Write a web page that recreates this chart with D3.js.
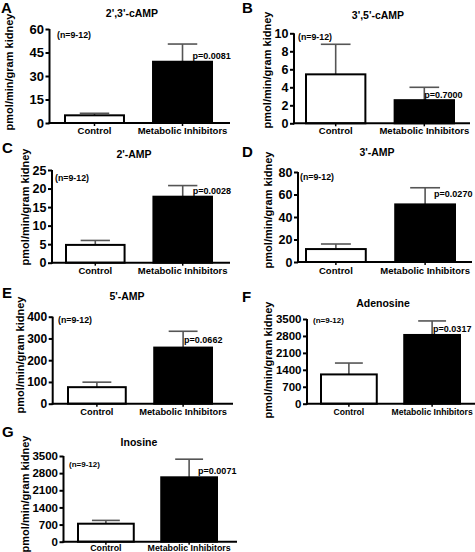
<!DOCTYPE html>
<html>
<head>
<meta charset="utf-8">
<script src="https://cdn.jsdelivr.net/npm/d3@7"></script>
<style>
  html, body { margin: 0; padding: 0; background: #fff; }
  text { font-family: "Liberation Sans", Arial, sans-serif; font-weight: bold; fill: #000; }
</style>
</head>
<body>
<svg id="chart" width="475" height="552"></svg>
<script>
// ---- data ----
const panelLetters = ["A", "B", "C", "D", "E", "F", "G"];
const titles = ["2',3'-cAMP", "3',5'-cAMP", "2'-AMP", "3'-AMP", "5'-AMP", "Adenosine", "Inosine"];
const categories = ["Control", "Metabolic Inhibitors"];
const controlMeans = [4.9, 5.44, 4.8, 11.5, 76, 1210, 735];
const controlUpper = [6.2, 8.78, 6.0, 16.0, 99, 1680, 870];
const inhibitorMeans = [39.1, 2.57, 17.8, 51.2, 258, 2840, 2630];
const inhibitorUpper = [50.4, 4.0, 20.8, 66, 333, 3420, 3370];
const pLabels = ["p=0.0081", "p=0.7000", "p=0.0028", "p=0.0270", "p=0.0662", "p=0.0317", "p=0.0071"];
const yMaxes = [60, 10, 25, 80, 400, 3500, 3500];
const yTickValues = [
  [0, 15, 30, 45, 60],
  [0, 2, 4, 6, 8, 10],
  [0, 5, 10, 15, 20, 25],
  [0, 20, 40, 60, 80],
  [0, 100, 200, 300, 400],
  [0, 700, 1400, 2100, 2800, 3500],
  [0, 700, 1400, 2100, 2800, 3500]
];
const nLabel = "(n=9-12)";
const yAxisLabel = "pmol/min/gram kidney";

// ---- layout (positions only) ----
// ax: y-axis x; xEnd: x-axis end; band: [left, right] extent of the band scale
const layout = [
  {ax: 49.5, xEnd: 230, band: [65, 212],  y0: 123,   yTop: 29,    tickFont: 13,   catFont: 9.5, letter: [1, 13],   title: [132, 17],  ylab: [9, 72],   n: [57, 38],   pdx: 10, pdy: -3, catDy: 11},
  {ax: 294,  xEnd: 470, band: [306, 454], y0: 123.3, yTop: 33.3,  tickFont: 12.5, catFont: 9.5, letter: [242, 13], title: [378, 19],  ylab: [267, 70], n: [298, 40],  pdx: 0,  pdy: -2, catDy: 11},
  {ax: 52,   xEnd: 230, band: [66, 212],  y0: 262.7, yTop: 170,   tickFont: 12.5, catFont: 9.5, letter: [2, 153],  title: [134, 158], ylab: [25, 207], n: [55, 181],  pdx: 10, pdy: -3, catDy: 11.5},
  {ax: 298,  xEnd: 472, band: [306, 455], y0: 262,   yTop: 172,   tickFont: 12.5, catFont: 9.5, letter: [242, 157],title: [377, 156], ylab: [268, 210],n: [300, 180], pdx: 9,  pdy: -7, catDy: 11.5},
  {ax: 52.7, xEnd: 233, band: [68, 212],  y0: 403.7, yTop: 316.7, tickFont: 12,   catFont: 9.3, letter: [2, 298],  title: [127, 300], ylab: [20, 355], n: [58, 323],  pdx: 1,  pdy: -5, catDy: 11},
  {ax: 307,  xEnd: 475, band: [321, 460], y0: 403.7, yTop: 319,   tickFont: 11.5, catFont: 8.6, letter: [242, 302],title: [383, 307], ylab: [268, 360],n: [313, 323], pdx: 1,  pdy: -3, catDy: 11},
  {ax: 63.5, xEnd: 237, band: [78, 217],  y0: 541.7, yTop: 456,   tickFont: 11.5, catFont: 8.8, letter: [2, 437],  title: [139, 446], ylab: [25, 494], n: [69, 467],  pdx: 9,  pdy: -3, catDy: 9}
];

const svg = d3.select("#chart");
const FONT = "'Liberation Sans', Arial, sans-serif";

panelLetters.forEach((letter, i) => {
  const L = layout[i];
  const g = svg.append("g");
  const values = [controlMeans[i], inhibitorMeans[i]];
  const uppers = [controlUpper[i], inhibitorUpper[i]];

  const x = d3.scaleBand().domain(categories).range(L.band).paddingInner(0.33).paddingOuter(0);
  const y = d3.scaleLinear().domain([0, yMaxes[i]]).range([L.y0, L.yTop]);

  // error bars (upper whisker only)
  categories.forEach((c, k) => {
    const cx = x(c) + x.bandwidth() / 2;
    const capW = x.bandwidth() / 2;
    g.append("line").attr("x1", cx).attr("x2", cx).attr("y1", y(values[k])).attr("y2", y(uppers[k]))
      .attr("stroke", "#555").attr("stroke-width", 1.6);
    g.append("line").attr("x1", cx - capW / 2).attr("x2", cx + capW / 2).attr("y1", y(uppers[k])).attr("y2", y(uppers[k]))
      .attr("stroke", "#555").attr("stroke-width", 1.6);
  });

  // bars
  g.selectAll("rect.bar").data(categories).enter().append("rect")
    .attr("x", c => x(c))
    .attr("y", (c, k) => y(values[k]))
    .attr("width", x.bandwidth())
    .attr("height", (c, k) => L.y0 - y(values[k]))
    .attr("fill", (c, k) => k === 0 ? "#fff" : "#000")
    .attr("stroke", "#000").attr("stroke-width", 2);

  // y axis
  const yAxis = d3.axisLeft(y).tickValues(yTickValues[i]).tickSize(4).tickPadding(1.5).tickFormat(d3.format("d"));
  const ya = g.append("g").attr("transform", `translate(${L.ax},0)`).call(yAxis);
  ya.select(".domain").attr("stroke", "#000").attr("stroke-width", 2).attr("d", `M0,${L.y0 + 1}V${L.yTop}`);
  ya.selectAll(".tick line").attr("stroke", "#000").attr("stroke-width", 2);
  ya.selectAll(".tick text").style("font-size", L.tickFont + "px").style("font-family", FONT).style("font-weight", "bold");

  // x axis
  const xAxis = d3.axisBottom(x).tickSize(3).tickPadding(2);
  const xa = g.append("g").attr("transform", `translate(0,${L.y0})`).call(xAxis);
  xa.select(".domain").attr("stroke", "#000").attr("stroke-width", 2).attr("d", `M${L.ax - 1},0H${L.xEnd}`);
  xa.selectAll(".tick line").attr("stroke", "#000").attr("stroke-width", 1.5);
  xa.selectAll(".tick text").attr("y", L.catDy).attr("dy", "0.0em")
    .style("font-size", L.catFont + "px").style("font-family", FONT).style("font-weight", "bold");

  // panel letter
  g.append("text").attr("x", L.letter[0]).attr("y", L.letter[1]).style("font-size", "15px").text(letter);
  // title
  g.append("text").attr("x", L.title[0]).attr("y", L.title[1]).attr("text-anchor", "middle").style("font-size", "10.5px").text(titles[i]);
  // y label
  g.append("text").attr("transform", `translate(${L.ylab[0]},${L.ylab[1]}) rotate(-90)`)
    .attr("text-anchor", "middle").attr("dy", "0.35em").style("font-size", "11px").text(yAxisLabel);
  // n label
  g.append("text").attr("x", L.n[0]).attr("y", L.n[1]).style("font-size", i >= 5 ? "8px" : "8.8px").text(nLabel);
  // p label
  const mx = x(categories[1]) + x.bandwidth() / 2;
  g.append("text").attr("x", mx + L.pdx).attr("y", y(inhibitorMeans[i]) + L.pdy).style("font-size", "9px").text(pLabels[i]);
});
</script>
</body>
</html>
